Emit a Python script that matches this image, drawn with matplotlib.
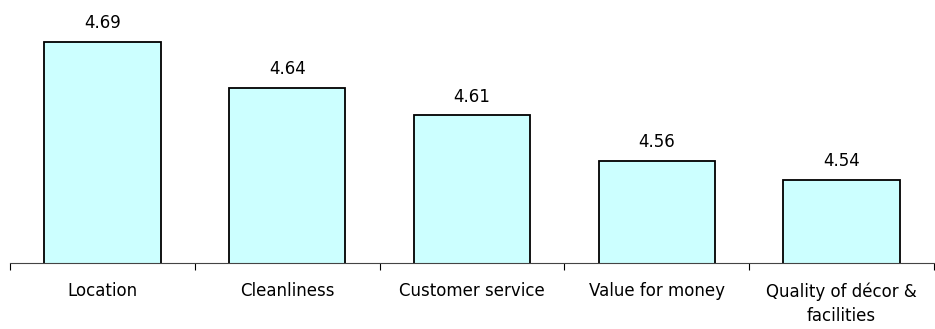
import matplotlib.pyplot as plt

categories = ["Location", "Cleanliness", "Customer service", "Value for money",
              "Quality of décor &\nfacilities"]
scores = [4.69, 4.64, 4.61, 4.56, 4.54]

fig = plt.figure(figsize=(9.35, 3.29), dpi=100)
ax = fig.add_axes([10 / 935, 1 - 263 / 329, 924 / 935, 263 / 329])

x = list(range(len(categories)))
bars = ax.bar(x, scores, width=0.63, color="#ccffff", edgecolor="black",
              linewidth=1.3, zorder=2)

ax.set_xlim(-0.5, len(categories) - 0.5)
ax.set_ylim(4.449, 4.7357)

for b, v in zip(bars, scores):
    ax.annotate(f"{v:.2f}", (b.get_x() + b.get_width() / 2, v),
                xytext=(0, 7), textcoords="offset points",
                ha="center", va="bottom", fontsize=12)

# category boundary ticks
ax.set_xticks([i - 0.5 for i in range(len(categories) + 1)], minor=False)
ax.set_xticklabels([])
ax.tick_params(axis="x", which="major", length=5, width=0.8, color="black")
ax.set_xticks(x, minor=True)
ax.set_xticklabels(categories, minor=True, fontsize=12, linespacing=1.45)
ax.tick_params(axis="x", which="minor", length=0, pad=14)

ax.set_yticks([])
for s in ["top", "right", "left"]:
    ax.spines[s].set_visible(False)
ax.spines["bottom"].set_color("#444444")
ax.spines["bottom"].set_linewidth(0.8)

fig.savefig("out.png", dpi=100)
